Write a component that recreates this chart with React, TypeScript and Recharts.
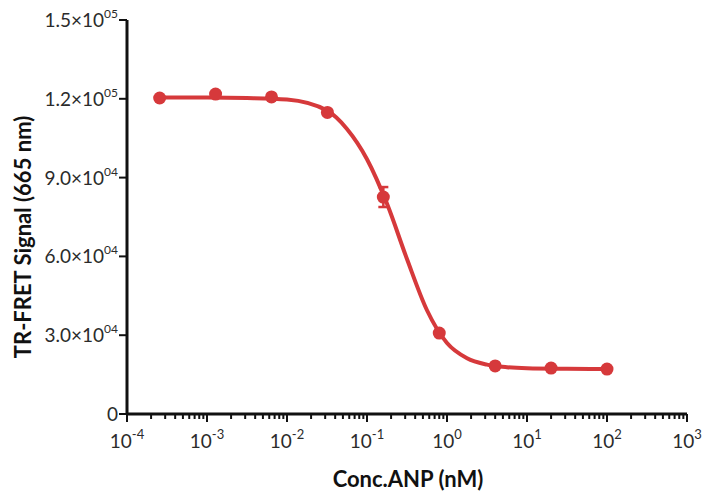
import React from 'react'
import { ComposedChart, Line, Scatter, ErrorBar, XAxis, YAxis } from 'recharts'

// measured points (mean ± SD)
const concentrations = [0.000256, 0.00128, 0.0064, 0.032, 0.16, 0.8, 4, 20, 100]
const signal = [120300, 121800, 120700, 114800, 82600, 30800, 18300, 17500, 17100]
const signalSd = [600, 900, 500, 1000, 3800, 900, 500, 400, 400]

// fitted curve
const fitConc = [0.000256, 0.001, 0.00316, 0.01, 0.0316, 0.0562, 0.1, 0.178, 0.316, 0.562, 1, 1.78, 3.16, 5.62, 10, 31.6, 100]
const fitSignal = [120500, 120500, 120300, 119700, 115500, 108500, 97000, 80000, 59000, 39500, 27000, 21200, 18800, 17800, 17400, 17200, 17100]

const xDecades = [1e-4, 1e-3, 1e-2, 1e-1, 1, 10, 100, 1000]
const xDecadeExp = ['-4', '-3', '-2', '-1', '0', '1', '2', '3']
const minorSteps = [2, 3, 4, 5, 6, 7, 8, 9]

const yTicks = [0, 30000, 60000, 90000, 120000, 150000]
const yTickMantissa = ['0', '3.0', '6.0', '9.0', '1.2', '1.5']
const yTickExp = ['', '04', '04', '04', '05', '05']

const RED = '#d6393b'
const FONT = 'Lato, "Open Sans", sans-serif'

const points = concentrations.map((c, i) => ({ x: c, y: signal[i], err: signalSd[i] }))
const curve = fitConc.map((c, i) => ({ x: c, y: fitSignal[i] }))

const xTicks = [
  ...xDecades,
  ...xDecades.slice(0, -1).flatMap(d => minorSteps.map(m => d * m)),
].sort((a, b) => a - b)

const XTick = (props: any) => {
  const { x, y, payload } = props
  const v = payload.value
  const idx = xDecades.findIndex(d => Math.abs(v / d - 1) < 1e-6)
  const major = idx >= 0
  return (
    <g>
      <line x1={x} x2={x} y1={y} y2={y + (major ? 8 : 5)} stroke="#111" strokeWidth={2} />
      {major && (
        <text x={x} y={y + 34} textAnchor="middle" fontSize={19} fill="#2b2b2b" fontFamily={FONT}>
          10<tspan dy={-9} fontSize={13}>{xDecadeExp[idx]}</tspan>
        </text>
      )}
    </g>
  )
}

const YTick = (props: any) => {
  const { x, y, payload } = props
  const idx = yTicks.indexOf(payload.value)
  const exp = yTickExp[idx]
  return (
    <g>
      <line x1={x - 8} x2={x} y1={y} y2={y} stroke="#111" strokeWidth={2} />
      <text x={x - 9} y={y + 7} textAnchor="end" fontSize={19} fill="#2b2b2b" fontFamily={FONT}>
        {exp ? (
          <>
            {yTickMantissa[idx]}×10<tspan dy={-9} fontSize={12}>{exp}</tspan>
          </>
        ) : (
          yTickMantissa[idx]
        )}
      </text>
    </g>
  )
}

export default function App() {
  return (
    <div style={{ position: 'absolute', left: 0, top: 0, background: '#fff' }}>
      <ComposedChart width={702} height={492} margin={{ top: 20, right: 15, bottom: 0, left: 0 }}>
        <XAxis
          dataKey="x"
          type="number"
          scale="log"
          domain={[1e-4, 1e3]}
          ticks={xTicks}
          interval={0}
          tick={<XTick />}
          tickLine={false}
          tickSize={0}
          tickMargin={0}
          height={78}
          axisLine={{ stroke: '#111', strokeWidth: 3 }}
          label={(p: any) => {
            const vb = p.viewBox
            return (
              <text x={vb.x + vb.width / 2 + 1} y={vb.y + 73} textAnchor="middle" fontSize={22} fontWeight="bold" fill="#111" fontFamily={FONT}>
                Conc.ANP (nM)
              </text>
            )
          }}
        />
        <YAxis
          type="number"
          domain={[0, 150000]}
          ticks={yTicks}
          interval={0}
          width={127}
          tick={<YTick />}
          tickLine={false}
          tickSize={0}
          tickMargin={0}
          axisLine={{ stroke: '#111', strokeWidth: 3 }}
          label={(p: any) => {
            const vb = p.viewBox
            const cy = vb.y + vb.height / 2 + 20
            return (
              <text x={22} y={cy} transform={`rotate(-90 22 ${cy})`} textAnchor="middle" dominantBaseline="central" fontSize={22} fontWeight="bold" fill="#111" fontFamily={FONT}>
                TR-FRET Signal (665 nm)
              </text>
            )
          }}
        />
        <Line
          data={curve}
          dataKey="y"
          type="monotone"
          stroke={RED}
          strokeWidth={4}
          dot={false}
          activeDot={false}
          isAnimationActive={false}
        />
        <Scatter data={points} dataKey="y" fill={RED} isAnimationActive={false} shape={(p: any) => <circle cx={p.cx} cy={p.cy} r={6.5} fill={RED} />}>
          <ErrorBar dataKey="err" direction="y" width={5} stroke={RED} strokeWidth={2.5} />
        </Scatter>
      </ComposedChart>
    </div>
  )
}
